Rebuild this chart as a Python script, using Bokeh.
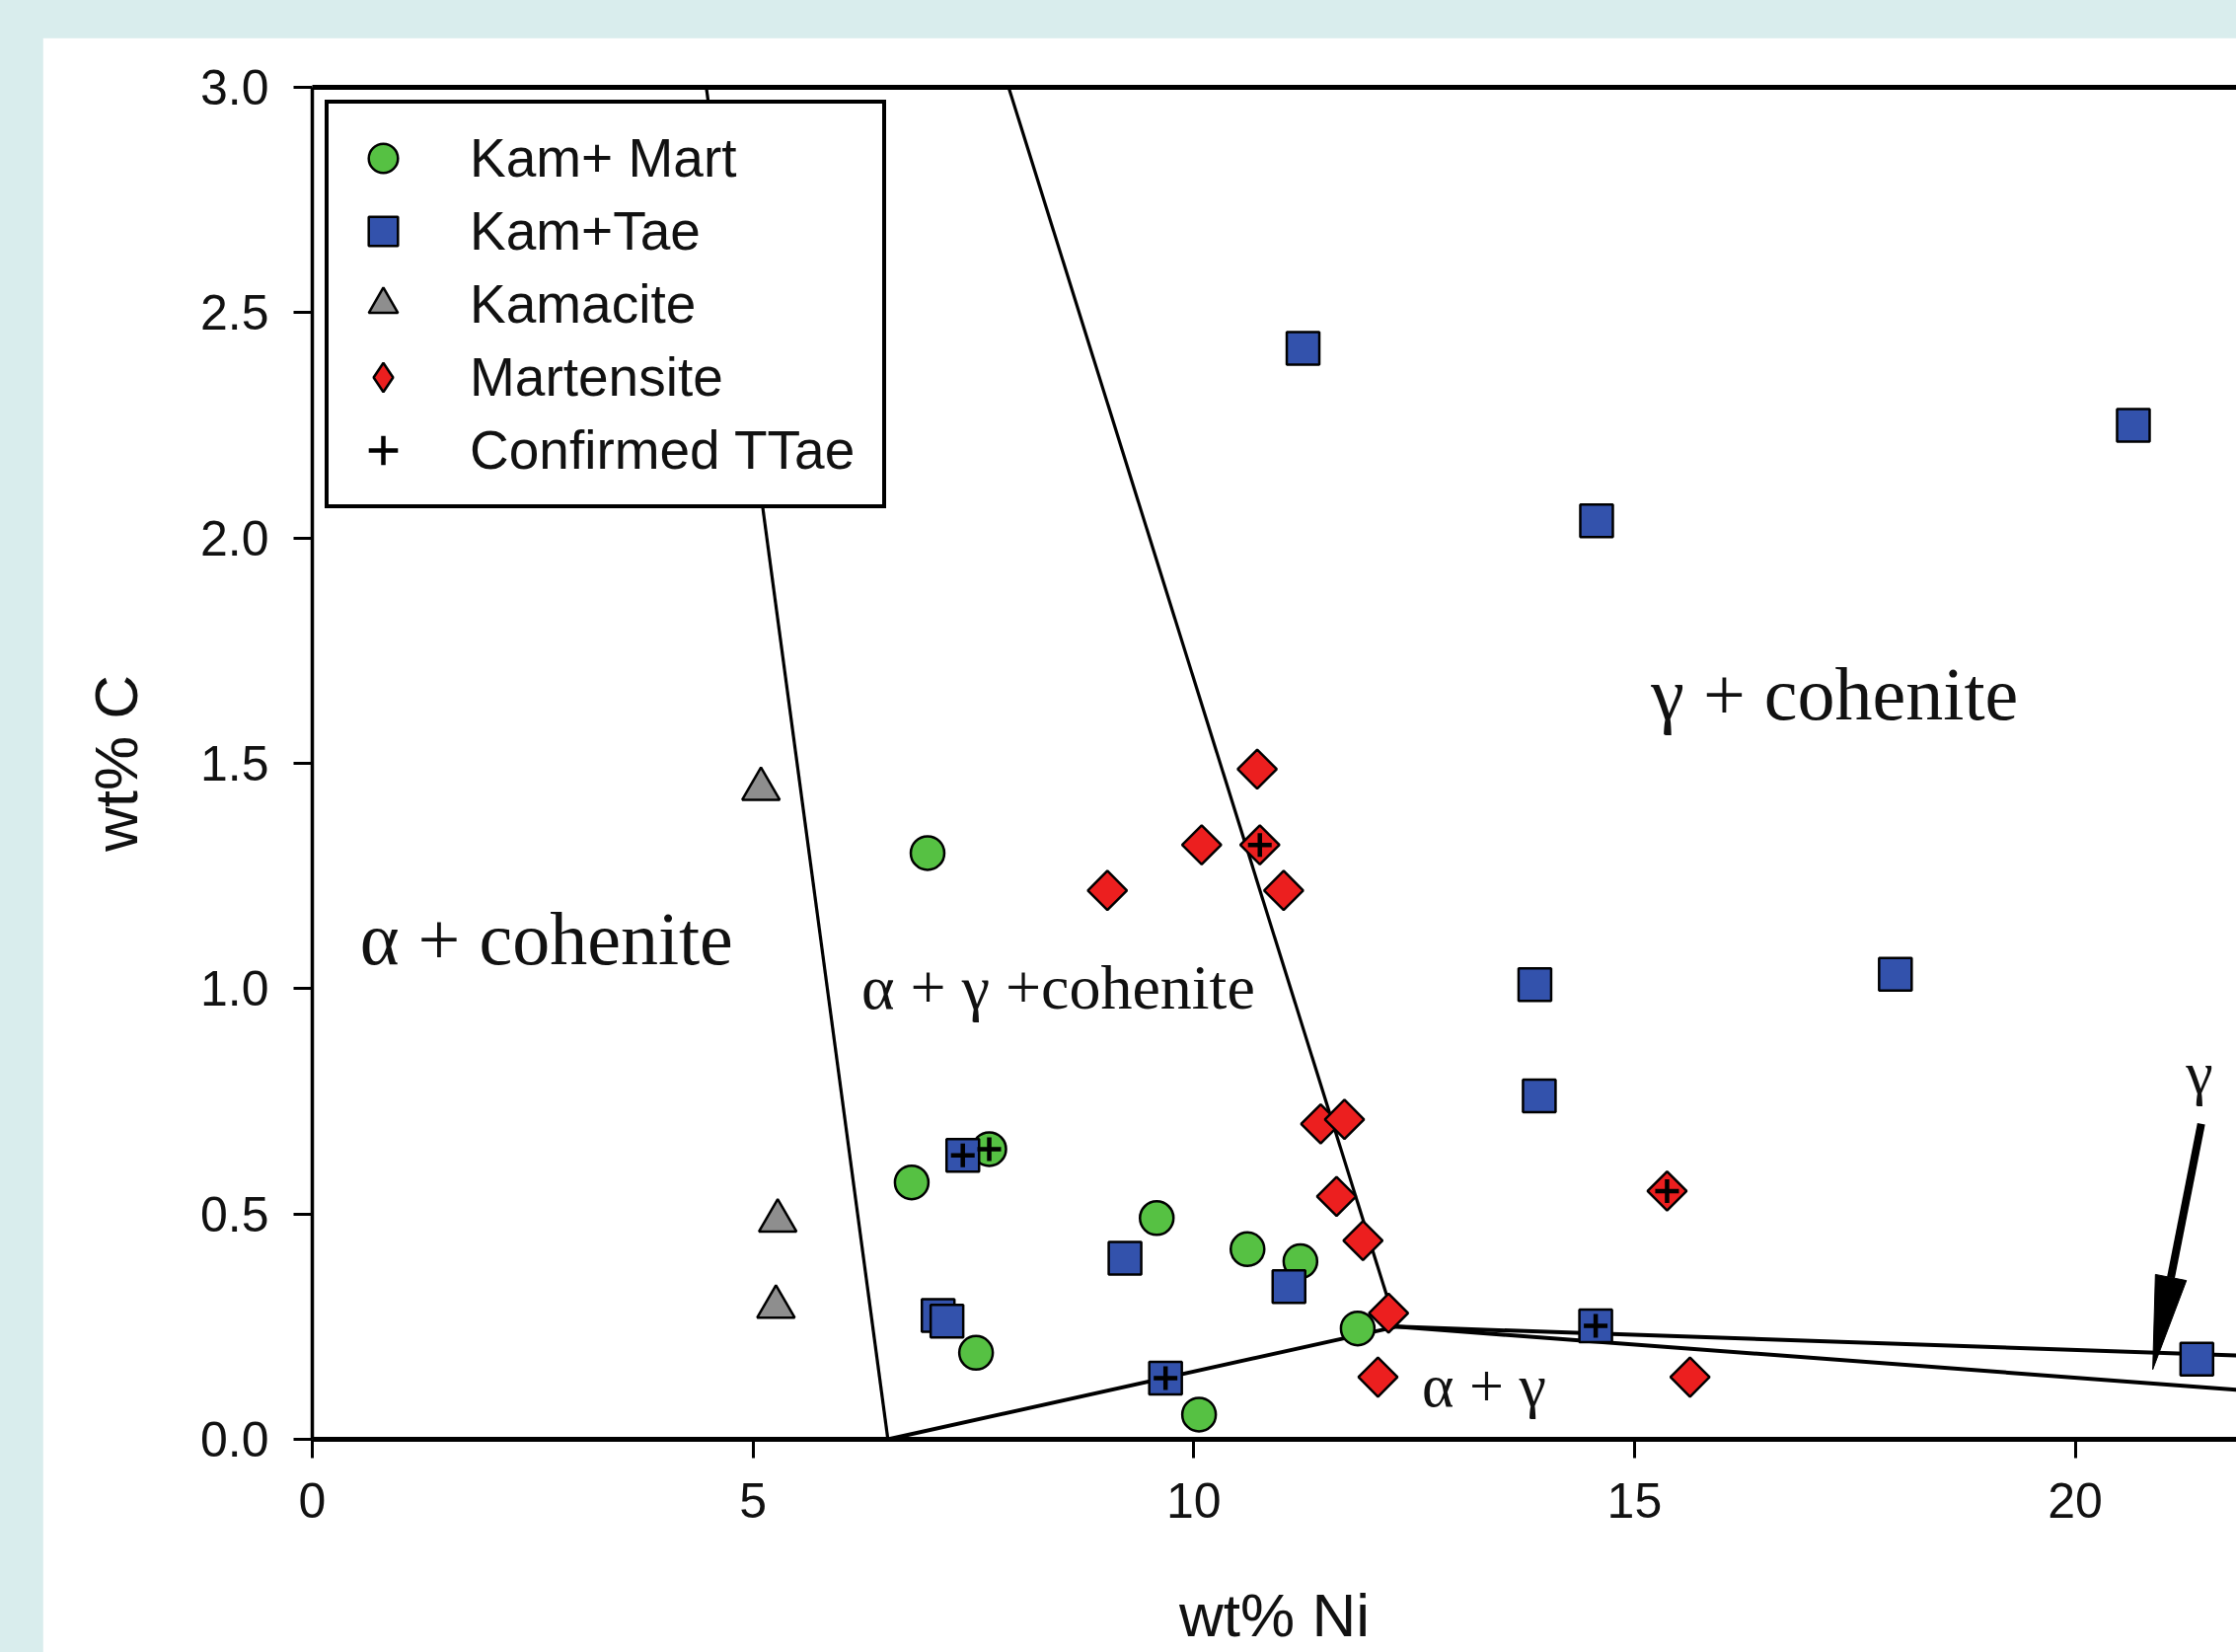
import math
from bokeh.plotting import figure
from bokeh.models import (LinearAxis, FixedTicker, Legend, LegendItem, Range1d,
                          PrintfTickFormatter)
from bokeh.layouts import column
from bokeh.embed import file_html
from bokeh.resources import INLINE
from bokeh.core.properties import value

# ---------------- data (wt% Ni, wt% C) ----------------
kam_mart_ni = [6.98, 6.80, 7.68, 7.53, 9.58, 10.61, 11.21, 11.86, 10.06]
kam_mart_c = [1.301, 0.570, 0.644, 0.192, 0.491, 0.422, 0.395, 0.246, 0.055]

kam_tae_ni = [11.24, 14.57, 20.66, 13.87, 17.96, 13.92, 7.38, 9.22, 11.08, 7.10, 7.20, 9.68, 14.56, 21.38]
kam_tae_c = [2.421, 2.038, 2.25, 1.009, 1.032, 0.762, 0.630, 0.402, 0.339, 0.275, 0.262, 0.136, 0.252, 0.178]

kamacite_ni = [5.09, 5.28, 5.26]
kamacite_c = [1.443, 0.485, 0.294]

martensite_ni = [10.72, 10.09, 10.75, 9.02, 11.02, 11.44, 11.71, 11.62, 11.92, 12.21, 12.09, 15.37, 15.63]
martensite_c = [1.487, 1.319, 1.319, 1.218, 1.218, 0.700, 0.710, 0.539, 0.441, 0.280, 0.138, 0.551, 0.138]

ttae_ni = [7.38, 7.68, 10.75, 9.68, 14.56, 15.37]
ttae_c = [0.630, 0.644, 1.319, 0.136, 0.252, 0.551]

# phase boundaries
bound_a_ni = [4.47, 6.53]
bound_a_c = [3.0, 0.0]
bound_b_ni = [7.90, 12.30]
bound_b_c = [3.0, 0.25]
bound_c_ni = [6.53, 12.30]
bound_c_c = [0.0, 0.25]
bound_d1_ni = [12.30, 21.83]
bound_d1_c = [0.25, 0.186]
bound_d2_ni = [12.30, 21.83]
bound_d2_c = [0.25, 0.110]

# arrow pointing at gamma field
arrow_ni = [21.43, 20.88]
arrow_c = [0.70, 0.155]

# region labels
region_text = ["α + cohenite", "α + γ +cohenite", "γ + cohenite", "α + γ", "γ"]
region_ni = [0.54, 6.23, 15.19, 12.59, 21.41]
region_c = [1.111, 1.003, 1.655, 0.12, 0.814]

x_ticks = [0, 5, 10, 15, 20]
y_ticks = [0.0, 0.5, 1.0, 1.5, 2.0, 2.5, 3.0]

# ---------------- layout constants ----------------
FIG_W, FIG_H = 2223, 1636
MB_LEFT, MB_TOP, MB_BOTTOM = 273, 50, 216
X_END = 21.83
Y_END = 3.0

TEAL = "#d9eded"
GREEN = "#56c143"
BLUE = "#3352ac"
GREY = "#8e8e8e"
RED = "#ec1f1f"

p = figure(width=FIG_W, height=FIG_H, output_backend="svg", toolbar_location=None,
           x_range=Range1d(0, X_END), y_range=Range1d(0, Y_END),
           x_axis_type=None, y_axis_type=None,
           min_border_left=MB_LEFT, min_border_right=0, min_border_top=MB_TOP,
           min_border_bottom=MB_BOTTOM)
p.background_fill_color = "white"
p.border_fill_color = "white"
p.outline_line_color = None

# axes
xaxis = LinearAxis(ticker=FixedTicker(ticks=x_ticks), axis_label="wt% Ni")
yaxis = LinearAxis(ticker=FixedTicker(ticks=y_ticks), axis_label="wt% C",
                   formatter=PrintfTickFormatter(format="%.1f"))
for ax in (xaxis, yaxis):
    ax.major_tick_out = 19
    ax.major_tick_in = 0
    ax.minor_tick_out = 0
    ax.minor_tick_in = 0
    ax.major_tick_line_width = 3
    ax.major_tick_line_color = "black"
    ax.axis_line_color = "black"
    ax.major_label_text_font = "Liberation Sans"
    ax.major_label_text_font_size = "50px"
    ax.major_label_text_color = "#111111"
    ax.major_label_standoff = 25
    ax.axis_label_text_font = "Liberation Sans"
    ax.axis_label_text_font_size = "62px"
    ax.axis_label_text_font_style = "normal"
    ax.axis_label_text_color = "#111111"
xaxis.axis_label_standoff = 61
yaxis.axis_label_standoff = 48
xaxis.axis_line_width = 5
yaxis.axis_line_width = 3.5
p.add_layout(xaxis, "below")
p.add_layout(yaxis, "left")

top_axis = LinearAxis(ticker=FixedTicker(ticks=[]), major_label_text_font_size="0px",
                      major_tick_out=0, major_tick_in=0, minor_tick_out=0, minor_tick_in=0,
                      axis_line_width=5, axis_line_color="black")
p.add_layout(top_axis, "above")

# phase boundary lines
for bx, by, w in [(bound_a_ni, bound_a_c, 3.2), (bound_b_ni, bound_b_c, 3.2),
                  (bound_c_ni, bound_c_c, 4), (bound_d1_ni, bound_d1_c, 4),
                  (bound_d2_ni, bound_d2_c, 4)]:
    p.line(bx, by, line_color="black", line_width=w)

# arrow: shaft + narrow head built from the arrow's data points
frame_w = FIG_W - MB_LEFT
frame_h = 1370.0
sx = frame_w / X_END
sy = frame_h / Y_END
dxp = (arrow_ni[1] - arrow_ni[0]) * sx
dyp = (arrow_c[1] - arrow_c[0]) * sy
L = math.hypot(dxp, dyp)
ux, uy = dxp / L, dyp / L
head_len, head_half = 95.0, 16.0
base_x = arrow_ni[1] - head_len * ux / sx
base_y = arrow_c[1] - head_len * uy / sy
px_, py_ = -uy, ux
p.line([arrow_ni[0], base_x], [arrow_c[0], base_y], line_color="black", line_width=8)
p.patch([arrow_ni[1], base_x + head_half * px_ / sx, base_x - head_half * px_ / sx],
        [arrow_c[1], base_y + head_half * py_ / sy, base_y - head_half * py_ / sy],
        fill_color="black", line_color="black", line_width=1)

# region labels
sizes = ["76px", "64px", "76px", "62px", "62px"]
aligns = ["left", "left", "left", "left", "center"]
for t, xx, yy, fs, al in zip(region_text, region_ni, region_c, sizes, aligns):
    p.text(x=[xx], y=[yy], text=[t], text_font=value("Liberation Serif"),
           text_font_size=fs, text_baseline="alphabetic", text_align=al,
           text_color="#111111")

# legend key for the martensite diamond (drawn under the first martensite point)
r_red_key = p.scatter(martensite_ni[:1], martensite_c[:1], marker="diamond", size=28,
                      fill_color=RED, line_color="black", line_width=2.5)

# scatter series
r_green = p.scatter(kam_mart_ni, kam_mart_c, marker="circle", size=34,
                    fill_color=GREEN, line_color="black", line_width=2.5)
r_blue = p.scatter(kam_tae_ni, kam_tae_c, marker="square", size=33,
                   fill_color=BLUE, line_color="black", line_width=2.5)
r_grey = p.scatter(kamacite_ni, kamacite_c, marker="triangle", size=38,
                   fill_color=GREY, line_color="black", line_width=2.5)
r_red = p.scatter(martensite_ni, martensite_c, marker="square", size=28, angle=math.pi / 4,
                  fill_color=RED, line_color="black", line_width=2.5)
r_cross = p.scatter(ttae_ni, ttae_c, marker="cross", size=24,
                    line_color="black", line_width=4.5)

legend = Legend(items=[
    LegendItem(label="Kam+ Mart", renderers=[r_green]),
    LegendItem(label="Kam+Tae", renderers=[r_blue]),
    LegendItem(label="Kamacite", renderers=[r_grey]),
    LegendItem(label="Martensite", renderers=[r_red_key]),
    LegendItem(label="Confirmed TTae", renderers=[r_cross]),
], location="top_left", margin=13, padding=18, spacing=0,
    glyph_width=74, glyph_height=74, label_standoff=51, label_width=400, label_height=74,
    label_text_font="Liberation Sans", label_text_font_size="55px",
    label_text_color="#111111",
    border_line_color="black", border_line_width=4, border_line_alpha=1.0,
    background_fill_color="white", background_fill_alpha=1.0)
p.add_layout(legend, "center")

p.margin = (38, 0, 0, 43)
layout = column(p, styles={"background-color": TEAL})

open("out.html", "w").write(file_html(layout, INLINE))
